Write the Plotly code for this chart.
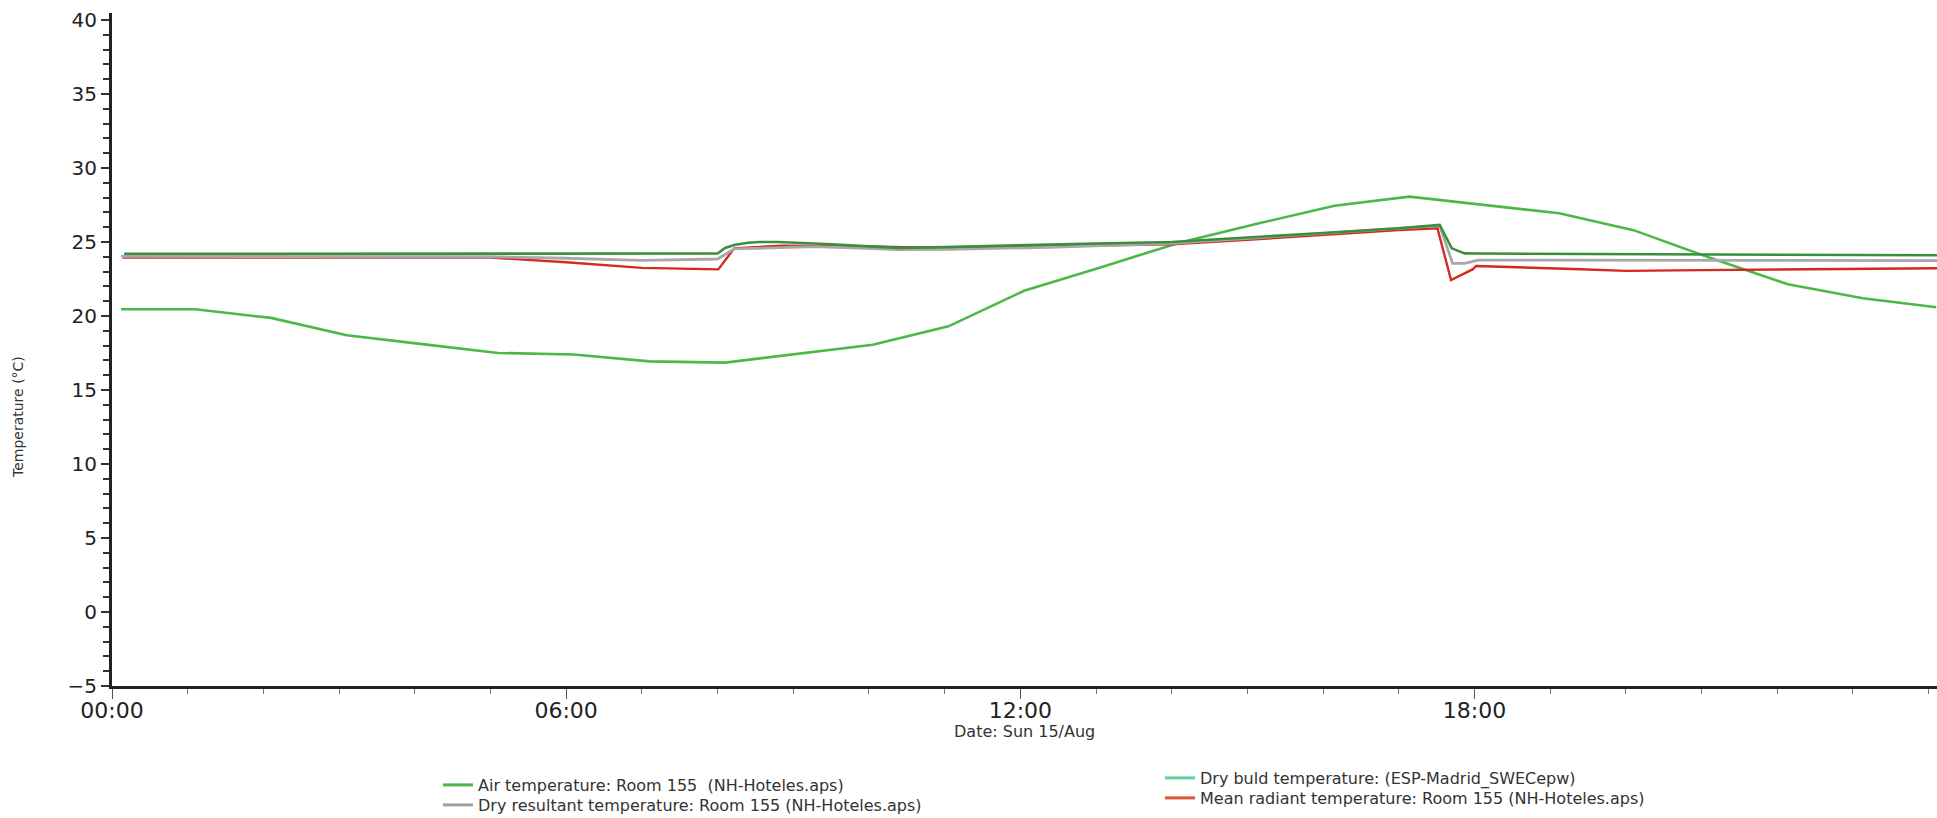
import plotly.graph_objects as go

# ---- data (hours after midnight, °C) ----
dry_bulb_hours = [0.12, 1.1, 2.1, 3.1, 4.1, 5.1, 6.1, 7.1, 8.1, 9.1, 10.05, 11.05, 12.05,
                  13.1, 14.1, 15.1, 16.15, 17.14, 18.1, 19.12, 20.1, 21.1, 22.14, 23.13, 24.1]
dry_bulb_temp = [20.45, 20.45, 19.87, 18.7, 18.1, 17.5, 17.4, 16.93, 16.85, 17.45, 18.05, 19.3, 21.7,
                 23.35, 24.95, 26.2, 27.45, 28.06, 27.5, 26.94, 25.8, 23.95, 22.14, 21.2, 20.59]

air_hours = [0.16, 2, 4, 6, 8.0, 8.1, 8.22, 8.4, 8.55, 8.8, 9.1, 9.5, 10.0, 10.4, 11.0, 12.0,
             13.0, 14.0, 15.0, 16.0, 17.0, 17.54, 17.7, 17.87, 18.0, 19, 20, 21, 22, 23, 24.11]
air_temp = [24.2, 24.2, 24.2, 24.21, 24.22, 24.6, 24.8, 24.95, 25.0, 25.0, 24.95, 24.85, 24.7, 24.6, 24.65, 24.8,
            24.9, 25.0, 25.29, 25.61, 25.93, 26.15, 24.57, 24.23, 24.22, 24.2, 24.2, 24.18, 24.15, 24.13, 24.1]

resultant_hours = [0.12, 2, 4, 5, 6, 7, 8.0, 8.22, 9.3, 10.4, 11.06, 12.38, 14.0,
                   15.0, 16.0, 17.0, 17.54, 17.71, 17.87, 18.05, 20, 22, 24.11]
resultant_temp = [24.03, 24.02, 24.01, 24.0, 23.9, 23.75, 23.85, 24.53, 24.68, 24.48, 24.5, 24.64, 24.9,
                  25.25, 25.58, 25.9, 26.1, 23.56, 23.56, 23.78, 23.76, 23.75, 23.74]

radiant_hours = [0.14, 2, 4, 5, 6, 7, 8.01, 8.22, 8.85, 10.0, 11.0, 12.38, 14.0,
                 15.0, 16.0, 17.0, 17.51, 17.69, 17.98, 18.02, 19.4, 20.0, 21.0, 22.0, 23.0, 24.11]
radiant_temp = [23.95, 23.95, 23.95, 23.95, 23.63, 23.25, 23.15, 24.57, 24.75, 24.7, 24.6, 24.7, 24.85,
                25.15, 25.5, 25.8, 25.93, 22.43, 23.16, 23.38, 23.16, 23.05, 23.1, 23.15, 23.2, 23.22]

x_tick_vals = [0, 6, 12, 18]
x_tick_text = ["00:00", "06:00", "12:00", "18:00"]
y_tick_vals = [-5, 0, 5, 10, 15, 20, 25, 30, 35, 40]

names = {
    "air": "Air temperature: Room 155\u00a0\u00a0(NH-Hoteles.aps)",
    "res": "Dry resultant temperature: Room 155 (NH-Hoteles.aps)",
    "bulb": "Dry buld temperature: (ESP-Madrid_SWECepw)",
    "mrt": "Mean radiant temperature: Room 155 (NH-Hoteles.aps)",
}

fig = go.Figure()

# plotted lines
fig.add_trace(go.Scatter(x=dry_bulb_hours, y=dry_bulb_temp, mode="lines",
                         line=dict(color="#4cb846", width=2.6), showlegend=False))
fig.add_trace(go.Scatter(x=radiant_hours, y=radiant_temp, mode="lines",
                         line=dict(color="#d42a20", width=2.4), showlegend=False))
fig.add_trace(go.Scatter(x=resultant_hours, y=resultant_temp, mode="lines",
                         line=dict(color="#a8a8aa", width=2.8), showlegend=False))
fig.add_trace(go.Scatter(x=air_hours, y=air_temp, mode="lines",
                         line=dict(color="#3a8f3f", width=2.6), showlegend=False))

# legend entries (each in its own legend box for exact placement)
fig.add_trace(go.Scatter(x=[None], y=[None], mode="lines", name=names["air"],
                         line=dict(color="#4db34d", width=3), legend="legend"))
fig.add_trace(go.Scatter(x=[None], y=[None], mode="lines", name=names["res"],
                         line=dict(color="#a0a0a0", width=3), legend="legend2"))
fig.add_trace(go.Scatter(x=[None], y=[None], mode="lines", name=names["bulb"],
                         line=dict(color="#5fcf9a", width=3), legend="legend3"))
fig.add_trace(go.Scatter(x=[None], y=[None], mode="lines", name=names["mrt"],
                         line=dict(color="#dd5533", width=3), legend="legend4"))

font_family = "DejaVu Sans, Verdana, sans-serif"


def leg(xpx, ypx):
    return dict(xref="container", yref="container", x=xpx / 1937, y=1 - ypx / 818,
                xanchor="left", yanchor="middle", orientation="v",
                font=dict(size=16, color="#333"), bgcolor="rgba(0,0,0,0)")


fig.update_layout(
    width=1937, height=818,
    margin=dict(l=112, r=0, t=13, b=132, pad=0, autoexpand=False),
    paper_bgcolor="white", plot_bgcolor="white",
    font=dict(family=font_family, color="#222"),
    legend=leg(438, 785),
    legend2=leg(438, 805),
    legend3=leg(1160, 778),
    legend4=leg(1160, 798),
    xaxis=dict(range=[0, 24.11], tickmode="array", tickvals=x_tick_vals, ticktext=x_tick_text,
               ticks="outside", ticklen=10, tickwidth=1, tickcolor="#555",
               minor=dict(dtick=1, ticks="outside", ticklen=5, tickwidth=1, tickcolor="#777", showgrid=False),
               showline=True, linewidth=3, linecolor="#222", showgrid=False, zeroline=False,
               ticklabelstandoff=-7,
               tickfont=dict(size=22, color="#222")),
    yaxis=dict(range=[-5, 40.47], tickmode="array", tickvals=y_tick_vals,
               ticks="outside", ticklen=8, tickwidth=1.5, tickcolor="#333",
               minor=dict(dtick=1, ticks="outside", ticklen=6, tickwidth=1.5, tickcolor="#333", showgrid=False),
               showline=True, linewidth=3, linecolor="#222", showgrid=False, zeroline=False,
               tickfont=dict(size=20, color="#222")),
    annotations=[
        dict(text="Temperature (°C)", xref="paper", yref="paper",
             x=(18 - 112) / 1825, y=(686 - 417) / 673, showarrow=False, textangle=-90,
             xanchor="center", yanchor="middle", font=dict(size=14, color="#333")),
        dict(text="Date: Sun 15/Aug", xref="paper", yref="paper",
             x=0.5, y=(686 - 731) / 673, showarrow=False,
             xanchor="center", yanchor="middle", font=dict(size=16, color="#333")),
    ],
)

fig.write_html("out.html", config={"displayModeBar": False},
               post_script="document.body.style.margin='0';")
